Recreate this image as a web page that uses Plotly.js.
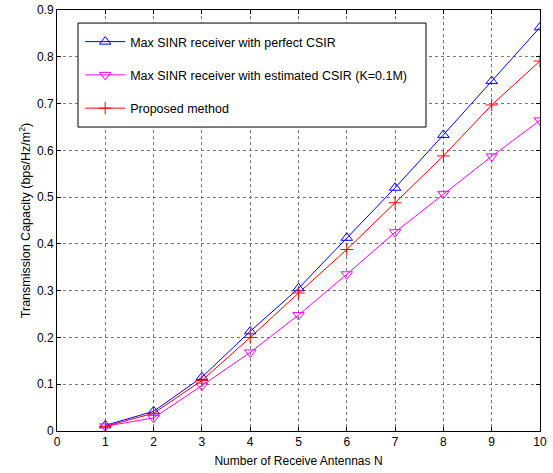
<!DOCTYPE html>
<html>
<head>
<meta charset="utf-8">
<script src="https://cdn.plot.ly/plotly-3.0.1.min.js"></script>
<style>body{margin:0;padding:0;background:#fff}#chart{width:553px;height:473px}</style>
</head>
<body>
<div id="chart"></div>
<script>
var antennas = [1, 2, 3, 4, 5, 6, 7, 8, 9, 10];
var perfectCSIR = [0.012, 0.042, 0.115, 0.213, 0.305, 0.413, 0.520, 0.633, 0.748, 0.863];
var estimatedCSIR = [0.010, 0.028, 0.097, 0.168, 0.248, 0.335, 0.425, 0.507, 0.587, 0.664];
var proposed = [0.010, 0.038, 0.108, 0.200, 0.295, 0.388, 0.488, 0.588, 0.697, 0.791];
var seriesNames = [
  "Max SINR receiver with perfect CSIR",
  "Max SINR receiver with estimated CSIR (K=0.1M)",
  "Proposed method"
];
var xTicks = [0,1,2,3,4,5,6,7,8,9,10];
var yTicks = [0,0.1,0.2,0.3,0.4,0.5,0.6,0.7,0.8,0.9];
var yTickText = ["0","0.1","0.2","0.3","0.4","0.5","0.6","0.7","0.8","0.9"];

var FONT = "Liberation Sans, Arial, sans-serif";

var traces = [
  {x: antennas, y: perfectCSIR, name: seriesNames[0], mode: "lines+markers", legendgroup: "a",
   line: {color: "#0000ff", width: 1},
   marker: {symbol: "triangle-up-open", size: 10, color: "#0000ff", line: {width: 1, color: "#0000ff"}}},
  {x: antennas, y: estimatedCSIR, name: seriesNames[1], mode: "lines+markers", legendgroup: "b",
   line: {color: "#ff00ff", width: 1},
   marker: {symbol: "triangle-down-open", size: 10, color: "#ff00ff", line: {width: 1, color: "#ff00ff"}}},
  {x: antennas, y: proposed, name: seriesNames[2], mode: "lines+markers", legendgroup: "c",
   line: {color: "#ff0000", width: 1},
   marker: {symbol: "cross-thin-open", size: 9, color: "#ff0000", line: {width: 1, color: "#ff0000"}}}
];

var axisCommon = {
  showline: true, linecolor: "#000", linewidth: 1, mirror: "ticks",
  ticks: "inside", ticklen: 4, tickcolor: "#000", tickwidth: 1,
  showgrid: true, gridcolor: "#777", griddash: "dot", gridwidth: 1,
  zeroline: false,
  tickfont: {family: FONT, size: 12, color: "#000"}
};

var layout = {
  width: 553, height: 473,
  margin: {l: 57, r: 13, t: 10, b: 42},
  paper_bgcolor: "#fff", plot_bgcolor: "#fff",
  showlegend: true,
  font: {family: FONT, size: 12, color: "#000"},
  xaxis: Object.assign({}, axisCommon, {
    range: [0, 10], tickvals: xTicks, ticktext: xTicks.map(String),
    title: {text: "Number of Receive Antennas N", font: {size: 12, color: "#000"}, standoff: 8}
  }),
  yaxis: Object.assign({}, axisCommon, {
    range: [0, 0.9], tickvals: yTicks, ticktext: yTickText,
    title: {text: "Transmission Capacity (bps/Hz/m<sup>2</sup>)", font: {size: 12.5, color: "#000"}, standoff: 3}
  }),
  shapes: [{
    type: "rect", xref: "paper", yref: "paper", layer: "above",
    x0: 0.0435, x1: 0.764, y0: 0.722, y1: 0.969,
    line: {color: "#000", width: 1}, fillcolor: "#fff"
  }],
  legend: {
    x: 0.048, y: 0.9596, xanchor: "left", yanchor: "top",
    bgcolor: "rgba(0,0,0,0)", borderwidth: 0,
    itemwidth: 40,
    tracegroupgap: 14,
    font: {family: FONT, size: 12.5, color: "#000"}
  }
};

Plotly.newPlot("chart", traces, layout, {displayModeBar: false, staticPlot: true});
</script>
</body>
</html>
